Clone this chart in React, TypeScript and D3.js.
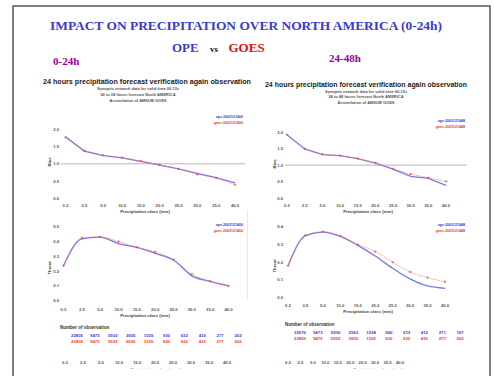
import React from 'react';
import * as d3 from 'd3';

// precipitation classes (mm)
const classes = ['0.2', '2.5', '5.0', '10.0', '15.0', '20.0', '25.0', '30.0', '35.0', '40.0'];

// bias, 0-24h
const biasOpe24 = [1.78, 1.37, 1.24, 1.17, 1.07, 0.96, 0.85, 0.72, 0.6, 0.45];
const biasGoes24 = [1.77, 1.38, 1.25, 1.18, 1.08, 0.97, 0.85, 0.69, 0.59, 0.39];
// bias, 24-48h
const biasOpe48 = [1.92, 1.49, 1.32, 1.29, 1.2, 1.06, 0.88, 0.66, 0.6, 0.39];
const biasGoes48 = [1.92, 1.5, 1.33, 1.29, 1.2, 1.07, 0.89, 0.73, 0.62, 0.51];

// threat score
const threatOpe24 = [0.236, 0.418, 0.43, 0.386, 0.36, 0.32, 0.275, 0.168, 0.13, 0.1];
const threatGoes24 = [0.236, 0.425, 0.432, 0.4, 0.362, 0.33, 0.278, 0.18, 0.132, 0.1];
const threatOpe48 = [0.18, 0.35, 0.37, 0.345, 0.295, 0.235, 0.166, 0.106, 0.066, 0.053];
const threatGoes48 = [0.18, 0.352, 0.372, 0.348, 0.3, 0.26, 0.2, 0.145, 0.113, 0.09];

// number of observations
const nObsOpe24 = ['22805', '9475', '5932', '2605', '1535', '930', '632', '416', '277', '202'];
const nObsGoes24 = ['22805', '9475', '5932', '2605', '1535', '930', '632', '416', '277', '202'];
const nObsOpe48 = ['22676', '9473', '5936', '2563', '1538', '960', '613', '412', '271', '197'];
const nObsGoes48 = ['22805', '9475', '5932', '2605', '1535', '930', '632', '416', '277', '202'];

const biasTicks = ['0.0', '0.5', '1.0', '1.5', '2.0'];
const threatTicks24 = ['0.0', '0.1', '0.2', '0.3', '0.4', '0.5'];
const threatTicks48 = ['0.0', '0.1', '0.2', '0.3', '0.4'];

const BLUE = '#3a3ad8';
const RED = '#e8402a';
const LINE_BLUE = '#7878f0';
const LINE_RED = '#f07a5a';
const GREY = '#555';
const SANS = 'Liberation Sans, Arial, sans-serif';
const SERIF = 'Liberation Serif, Times New Roman, serif';

type PlotProps = {
  ope: number[];
  goes: number[];
  ticks: string[];
  xr: [number, number];
  frame: [number, number, number, number];
  yr: [number, number];
  ymax: number;
  label: string;
  labelX: number;
  refLine?: number;
  legend: [string, string];
  smooth?: boolean;
};

function Plot({ ope, goes, ticks, xr, frame, yr, ymax, label, labelX, refLine, legend, smooth }: PlotProps) {
  const x = d3.scalePoint<string>().domain(classes).range(xr);
  const y = d3.scaleLinear().domain([0, ymax]).range(yr);
  const [fx0, fy0, fx1, fy1] = frame;
  const line = d3
    .line<number>()
    .x((_, i) => x(classes[i]) as number)
    .y((d) => y(d))
    .curve(smooth ? d3.curveMonotoneX : d3.curveLinear);
  const cx = (fx0 + fx1) / 2;
  return (
    <g>
      {refLine !== undefined && (
        <line x1={fx0} x2={fx1} y1={y(refLine)} y2={y(refLine)} stroke="#999" strokeWidth={0.7} />
      )}
      {ticks.map((t) => (
        <text key={t} x={fx0 - 2} y={y(+t) + 1.5} fontSize={4.2} fontWeight="bold" fill={GREY} textAnchor="end" fontFamily={SANS}>
          {t}
        </text>
      ))}
      {classes.map((c) => (
        <text key={c} x={x(c)} y={fy1 + 7} fontSize={4.2} fontWeight="bold" fill={GREY} textAnchor="middle" fontFamily={SANS}>
          {c}
        </text>
      ))}
      <text x={cx - 8} y={fy1 + 12.5} fontSize={4.3} fontWeight="bold" fill="#444" textAnchor="middle" fontFamily={SANS}>
        Precipitation class (mm)
      </text>
      <text
        transform={`translate(${labelX},${(fy0 + fy1) / 2 + 6}) rotate(-90)`}
        fontSize={4.3}
        fontWeight="bold"
        fill="#444"
        textAnchor="middle"
        fontFamily={SANS}
      >
        {label}
      </text>
      <path d={line(ope) || ''} fill="none" stroke={LINE_BLUE} strokeWidth={1.3} />
      <path d={line(goes) || ''} fill="none" stroke={LINE_RED} strokeWidth={0.7} strokeDasharray="1.5,1" />
      {goes.map((v, i) => (
        <g key={i} stroke={RED} strokeWidth={0.6}>
          <line x1={(x(classes[i]) as number) - 1.3} x2={(x(classes[i]) as number) + 1.3} y1={y(v)} y2={y(v)} />
          <line x1={x(classes[i]) as number} x2={x(classes[i]) as number} y1={y(v) - 1.3} y2={y(v) + 1.3} />
        </g>
      ))}
      <text x={fx1 - 2} y={fy0 + 6} fontSize={3.6} fontWeight="bold" fill={BLUE} textAnchor="end" fontFamily={SANS}>
        {legend[0]}
      </text>
      <text x={fx1 - 2} y={fy0 + 12} fontSize={3.6} fontWeight="bold" fill={RED} textAnchor="end" fontFamily={SANS}>
        {legend[1]}
      </text>
    </g>
  );
}

type TableProps = {
  ope: string[];
  goes: string[];
  xr: [number, number];
  labelX: number;
  yLabel: number;
  bottomXr: [number, number];
  bottomY: number;
};

function ObsTable({ ope, goes, xr, labelX, yLabel, bottomXr, bottomY }: TableProps) {
  const x = d3.scalePoint<string>().domain(classes).range(xr);
  const xb = d3.scalePoint<string>().domain(classes).range(bottomXr);
  return (
    <g fontFamily={SANS} fontWeight="bold">
      <text x={labelX} y={yLabel} fontSize={4.5} fill="#333">
        Number of observation
      </text>
      {classes.map((c, i) => (
        <g key={c}>
          <text x={x(c)} y={yLabel + 8} fontSize={4.3} fill={BLUE} textAnchor="middle">
            {ope[i]}
          </text>
          <text x={x(c)} y={yLabel + 14} fontSize={4.3} fill={RED} textAnchor="middle">
            {goes[i]}
          </text>
          <text x={xb(c)} y={bottomY} fontSize={4.2} fill={GREY} textAnchor="middle">
            {c}
          </text>
        </g>
      ))}
    </g>
  );
}

export default function App() {
  return (
    <svg width={494} height={376} style={{ position: 'absolute', left: 0, top: 0, background: '#fff' }}>
      <defs>
        <clipPath id="cutL">
          <rect x={0} y={0} width={494} height={368.5} />
        </clipPath>
      </defs>
      <rect x={13} y={6} width={477} height={400} fill="#fff" stroke="#555" strokeWidth={1.5} />

      <text x={246} y={30} textAnchor="middle" fontFamily={SERIF} fontWeight="bold" fontSize={12.5} fill="#3a3ad0" textLength={392} lengthAdjust="spacingAndGlyphs">
        IMPACT ON PRECIPITATION OVER NORTH AMERICA (0-24h)
      </text>
      <text x={172} y={52} fontFamily={SERIF} fontWeight="bold" fontSize={13} fill="#3a3ad0">OPE</text>
      <text x={210} y={52} fontFamily={SERIF} fontWeight="bold" fontSize={9} fill="#111">vs</text>
      <text x={228.5} y={52} fontFamily={SERIF} fontWeight="bold" fontSize={13} fill="#e01010">GOES</text>
      <text x={53} y={65} fontFamily={SERIF} fontWeight="bold" fontSize={11} fill="#990099">0-24h</text>
      <text x={329} y={62} fontFamily={SERIF} fontWeight="bold" fontSize={11} fill="#990099">24-48h</text>

      {/* left panel: 0-24h */}
      <g fontFamily={SANS} textAnchor="middle">
        <text x={147} y={84} fontSize={7.5} fontWeight="bold" fill="#222" textLength={208} lengthAdjust="spacingAndGlyphs">
          24 hours precipitation forecast verification again observation
        </text>
        <text x={138} y={89.5} fontSize={4} fontWeight="bold" fill="#555">Synoptic network data for valid time 00-12z</text>
        <text x={138} y={95.5} fontSize={4} fontWeight="bold" fill="#555">00 to 24 hours forecast North AMERICA</text>
        <text x={138} y={101.5} fontSize={4} fontWeight="bold" fill="#555">Assimilation of AMSUB GOES</text>
      </g>
      <Plot ope={biasOpe24} goes={biasGoes24} ticks={biasTicks} xr={[65.5, 235]} frame={[61, 112, 245, 200]} yr={[198.3, 129.3]} ymax={2} label="Bias" labelX={51} refLine={1} legend={['ope.2003121400', 'goes.2003121400']} />
      <Plot ope={threatOpe24} goes={threatGoes24} ticks={threatTicks24} xr={[63.5, 228.5]} frame={[61, 220, 245, 304]} yr={[300.7, 226.7]} ymax={0.5} label="Threat" labelX={51} legend={['ope.2003121400', 'goes.2003121400']} smooth />
      <ObsTable ope={nObsOpe24} goes={nObsGoes24} xr={[77, 238]} labelX={60} yLabel={329} bottomXr={[65, 227]} bottomY={364} />
      <text x={155} y={371} clipPath="url(#cutL)" fontSize={4.3} fontWeight="bold" fill="#444" textAnchor="middle" fontFamily={SANS}>
        Precipitation class (mm)
      </text>

      {/* right panel: 24-48h */}
      <g fontFamily={SANS} textAnchor="middle">
        <text x={366} y={87} fontSize={7.5} fontWeight="bold" fill="#222" textLength={202} lengthAdjust="spacingAndGlyphs">
          24 hours precipitation forecast verification again observation
        </text>
        <text x={366} y={92.5} fontSize={4} fontWeight="bold" fill="#555">Synoptic network data for valid time 00-12z</text>
        <text x={366} y={98} fontSize={4} fontWeight="bold" fill="#555">24 to 48 hours forecast North AMERICA</text>
        <text x={366} y={103.5} fontSize={4} fontWeight="bold" fill="#555">Assimilation of AMSUB GOES</text>
      </g>
      <line x1={247.5} x2={247.5} y1={210} y2={300} stroke="#e2e2e2" strokeWidth={0.8} />
      <Plot ope={biasOpe48} goes={biasGoes48} ticks={biasTicks} xr={[287, 446]} frame={[285, 116, 467, 200]} yr={[198.3, 132]} ymax={2} label="Bias" labelX={276} refLine={1} legend={['ope.2003121448', 'goes.2003121448']} />
      <Plot ope={threatOpe48} goes={threatGoes48} ticks={threatTicks48} xr={[288, 445]} frame={[285, 220, 467, 300]} yr={[297.7, 226.7]} ymax={0.4} label="Threat" labelX={276} legend={['ope.2003121448', 'goes.2003121448']} smooth />
      <ObsTable ope={nObsOpe48} goes={nObsGoes48} xr={[300, 460]} labelX={285} yLabel={326} bottomXr={[288, 400]} bottomY={364} />
      <text x={378} y={371} clipPath="url(#cutL)" fontSize={4.3} fontWeight="bold" fill="#444" textAnchor="middle" fontFamily={SANS}>
        Precipitation class (mm)
      </text>
    </svg>
  );
}
